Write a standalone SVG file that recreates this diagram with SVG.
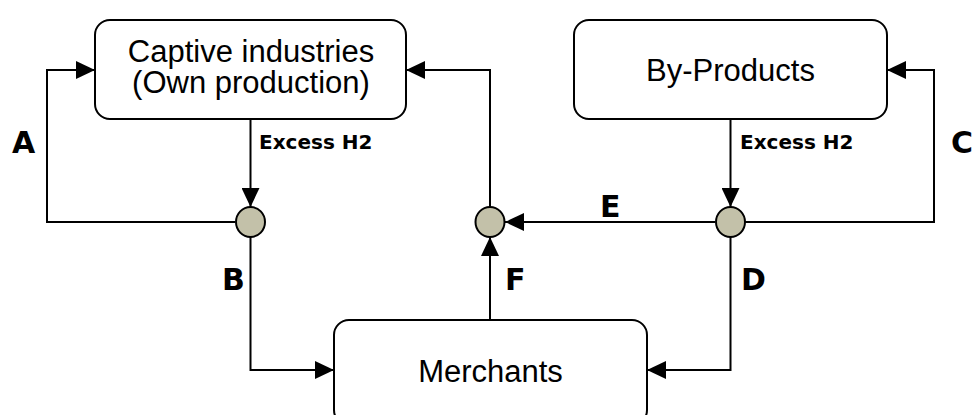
<svg xmlns="http://www.w3.org/2000/svg" width="975" height="415" viewBox="0 0 975 415">
  <style>
    .box { fill: #ffffff; stroke: #000000; stroke-width: 2; }
    .hub { fill: #c3c1a9; stroke: #000000; stroke-width: 2; }
    .conn { fill: none; stroke: #000000; stroke-width: 2; marker-end: url(#arrow); }
    .name { font-family: "Liberation Sans", Arial, sans-serif; font-size: 31px; fill: #000000; text-anchor: middle; }
    .flow { font-family: "DejaVu Sans", Verdana, sans-serif; font-weight: bold; font-size: 20px; fill: #000000; }
    .letter { font-family: "DejaVu Sans", Verdana, sans-serif; font-weight: bold; font-size: 30px; fill: #000000; }
  </style>
  <defs>
    <marker id="arrow" markerUnits="userSpaceOnUse" markerWidth="19" markerHeight="18" refX="19" refY="9" orient="auto">
      <path d="M0,0 L19,9 L0,18 Z" fill="#000000"/>
    </marker>
  </defs>
  <rect width="975" height="415" fill="#ffffff"/>

  <g id="connectors">
    <!-- A -->
    <path class="conn" d="M235,222 H47 V70 H95"/>
    <!-- Excess H2 left -->
    <path class="conn" d="M250.5,120 V207"/>
    <!-- Center hub up to Captive -->
    <path class="conn" d="M490,207 V70 H406"/>
    <!-- C -->
    <path class="conn" d="M745,222 H934 V70 H887"/>
    <!-- Excess H2 right -->
    <path class="conn" d="M730.5,120 V207"/>
    <!-- E -->
    <path class="conn" d="M715,222 H505"/>
    <!-- B -->
    <path class="conn" d="M250.5,237 V370 H334"/>
    <!-- D -->
    <path class="conn" d="M730.5,237 V370 H647"/>
    <!-- F -->
    <path class="conn" d="M490,320 V237"/>
    <text class="flow" x="259" y="149">Excess H2</text>
    <text class="flow" x="740" y="149">Excess H2</text>
    <text class="letter" x="12" y="153">A</text>
    <text class="letter" x="222" y="290">B</text>
    <text class="letter" x="951" y="153">C</text>
    <text class="letter" x="741" y="290">D</text>
    <text class="letter" x="600" y="217">E</text>
    <text class="letter" x="505" y="290">F</text>
  </g>

  <g id="captive">
    <rect class="box" x="95" y="20" width="311" height="99" rx="15" ry="15"/>
    <text class="name" x="251" y="62">Captive industries</text>
    <text class="name" x="251" y="93">(Own production)</text>
  </g>
  <g id="byproducts">
    <rect class="box" x="574" y="20" width="313" height="99" rx="15" ry="15"/>
    <text class="name" x="730.5" y="81">By-Products</text>
  </g>
  <g id="merchants">
    <rect class="box" x="334" y="320" width="313" height="105" rx="15" ry="15"/>
    <text class="name" x="490.5" y="382">Merchants</text>
  </g>
  <g id="hub-left">
    <ellipse class="hub" cx="250.5" cy="222" rx="14.5" ry="15"/>
  </g>
  <g id="hub-center">
    <ellipse class="hub" cx="490" cy="222" rx="14.5" ry="15"/>
  </g>
  <g id="hub-right">
    <ellipse class="hub" cx="730.5" cy="222" rx="14.5" ry="15"/>
  </g>
</svg>
